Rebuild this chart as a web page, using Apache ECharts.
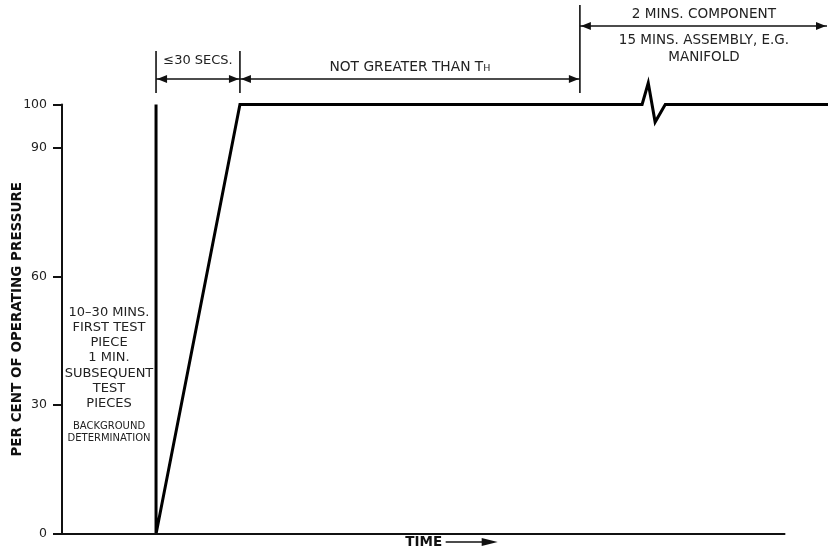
<!DOCTYPE html>
<html>
<head>
<meta charset="utf-8">
<script src="https://cdn.jsdelivr.net/npm/echarts@6/dist/echarts.min.js"></script>
<style>
html,body{margin:0;padding:0;background:#fff;}
#c{width:828px;height:554px;}
</style>
</head>
<body>
<div id="c"></div>
<script>
// ---- data (arbitrary time units; the drawn time axis runs 0..100) ----
const yTicks = [0, 30, 60, 90, 100];
const timeX = [13.0, 13.0, 24.6, 80.2, 81.05, 82.0, 83.4, 105.9];
const pressure = [100, 0, 100, 100, 105.0, 95.9, 100, 100];
const timeAxisRange = [0, 100];
const phaseBounds = [13.0, 24.6, 71.6, 105.9];
const yTitle = 'PER CENT OF OPERATING PRESSURE';
const xTitle = 'TIME';
const boxText = ['10\u201330 MINS.', 'FIRST TEST', 'PIECE', '1 MIN.', 'SUBSEQUENT', 'TEST', 'PIECES'];
const boxSmall = ['BACKGROUND', 'DETERMINATION'];
const phase1 = '\u226430 SECS.';
const phase2 = ['NOT GREATER THAN T', 'H'];
const phase3 = ['2 MINS. COMPONENT', '15 MINS. ASSEMBLY, E.G.', 'MANIFOLD'];

const FONT = 'DejaVu Sans';
const TXT = '#222';
const chart = echarts.init(document.getElementById('c'), null, {renderer: 'canvas'});

chart.setOption({
  animation: false,
  backgroundColor: '#fff',
  grid: {left: 62, right: 0, top: 104.5, bottom: 20, containLabel: false, outerBoundsMode: 'none'},
  xAxis: {
    type: 'value', min: 0, max: 105.9,
    splitLine: {show: false},
    axisTick: {show: false},
    axisLabel: {show: false},
    axisLine: {show: false}
  },
  yAxis: {
    type: 'value', min: 0, max: 100,
    splitLine: {show: false},
    axisLine: {show: true, lineStyle: {color: '#111', width: 2}},
    axisTick: {show: true, inside: false, length: 9, customValues: yTicks, lineStyle: {color: '#111', width: 2}},
    axisLabel: {show: true, customValues: yTicks, margin: 15, fontFamily: FONT, fontSize: 12.5, color: TXT},
    name: yTitle, nameLocation: 'middle', nameGap: 45, nameRotate: 90, nameMoveOverlap: false,
    nameTextStyle: {fontFamily: FONT, fontWeight: 'bold', fontSize: 13.5, color: '#111', verticalAlign: 'middle'}
  },
  series: [{
    type: 'line',
    data: timeX.map((x, i) => [x, pressure[i]]),
    showSymbol: false, symbol: 'none',
    clip: false,
    lineStyle: {color: '#000', width: 3, join: 'miter'},
    markLine: {
      silent: true, symbol: 'none', animation: false,
      label: {show: false},
      lineStyle: {color: '#111', width: 2, type: 'solid'},
      data: [[{coord: [timeAxisRange[0], 0]}, {coord: [timeAxisRange[1], 0]}]]
    }
  }]
});

function px(x) { return chart.convertToPixel({gridIndex: 0}, [x, 0])[0]; }
function vline(x, y1, y2, w) {
  return {type: 'line', shape: {x1: x, y1: y1, x2: x, y2: y2}, style: {stroke: '#111', lineWidth: w || 1.6}, silent: true};
}
function arrowLine(x1, x2, y) {
  const L = 11, H = 4;
  return [
    {type: 'line', shape: {x1: x1, y1: y, x2: x2, y2: y}, style: {stroke: '#111', lineWidth: 1.6}, silent: true},
    {type: 'polygon', shape: {points: [[x1 + 1, y], [x1 + L, y - H], [x1 + L, y + H]]}, style: {fill: '#111'}, silent: true},
    {type: 'polygon', shape: {points: [[x2 - 1, y], [x2 - L, y - H], [x2 - L, y + H]]}, style: {fill: '#111'}, silent: true}
  ];
}
function label(x, y, text, size, extra) {
  return Object.assign({type: 'text', x: x, y: y, silent: true,
    style: {text: text, fontFamily: FONT, fontSize: size, fill: TXT, align: 'center', verticalAlign: 'middle'}}, extra || {});
}

const b0 = px(phaseBounds[0]), b1 = px(phaseBounds[1]), b2 = px(phaseBounds[2]), b3 = px(phaseBounds[3]);
const yAxisX = px(timeAxisRange[0]);
const timeEnd = px(timeAxisRange[1]);
const boxCx = (yAxisX + b0) / 2;
const g = [];
g.push(vline(b0, 51, 93), vline(b1, 51, 93), vline(b2, 5, 93));
g.push(...arrowLine(b0, b1, 79), ...arrowLine(b1, b2, 79), ...arrowLine(b2, b3 - 1, 26));
g.push(label((b0 + b1) / 2, 61, phase1, 13));
g.push({type: 'text', x: (b1 + b2) / 2, y: 67, silent: true,
  style: {text: '{a|' + phase2[0] + '}{b|' + phase2[1] + '}', align: 'center', verticalAlign: 'middle',
    rich: {a: {fontFamily: FONT, fontSize: 13.8, fill: TXT}, b: {fontFamily: FONT, fontSize: 9.5, fill: TXT, padding: [3, 0, 0, 0]}}}});
g.push(label((b2 + b3) / 2, 14, phase3[0], 13.6));
g.push(label((b2 + b3) / 2, 40, phase3[1], 13.5));
g.push(label((b2 + b3) / 2, 57, phase3[2], 13.5));
g.push({type: 'text', x: boxCx, y: 304.5, silent: true,
  style: {text: boxText.join('\n'), fontFamily: FONT, fontSize: 13, lineHeight: 15.3, fill: TXT, align: 'center', verticalAlign: 'top'}});
g.push({type: 'text', x: boxCx, y: 420, silent: true,
  style: {text: boxSmall.join('\n'), fontFamily: FONT, fontSize: 10, lineHeight: 12, fill: TXT, align: 'center', verticalAlign: 'top'}});
// TIME label with arrow
const tcx = (yAxisX + timeEnd) / 2;
g.push({type: 'text', x: tcx, y: 542, silent: true,
  style: {text: xTitle, fontFamily: FONT, fontWeight: 'bold', fontSize: 13.5, fill: '#111', align: 'center', verticalAlign: 'middle'}});
const ax1 = tcx + 22, ax2 = ax1 + 52;
g.push({type: 'line', shape: {x1: ax1, y1: 542, x2: ax2 - 8, y2: 542}, style: {stroke: '#111', lineWidth: 1.6}, silent: true});
g.push({type: 'polygon', shape: {points: [[ax2, 542], [ax2 - 16, 538], [ax2 - 16, 546]]}, style: {fill: '#111'}, silent: true});
chart.setOption({graphic: g});
</script>
</body>
</html>
